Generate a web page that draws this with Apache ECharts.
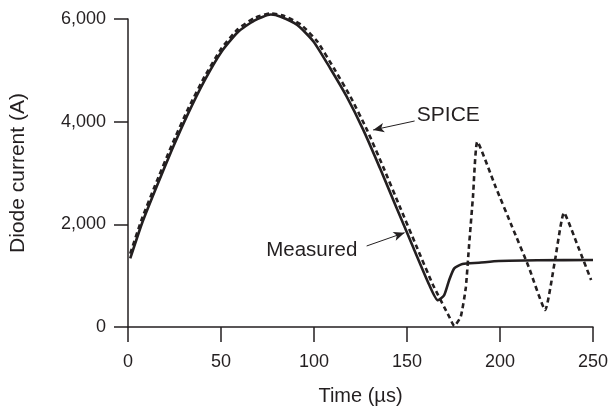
<!DOCTYPE html>
<html>
<head>
<meta charset="utf-8">
<script src="https://cdn.jsdelivr.net/npm/echarts@6/dist/echarts.min.js"></script>
<style>
  html, body { margin: 0; padding: 0; background: #fff; }
  #chart { width: 611px; height: 412px; }
</style>
</head>
<body>
<div id="chart"></div>
<script>
// values: time in µs, current in A
const measuredTime = [1.2, 7.5, 14.6, 23.5, 32.3, 41.2, 50.1, 59, 67.9, 76.8, 82.1, 91, 99.8, 108.7, 117.6, 126.5, 135.4, 144.3, 153.2, 162, 166.6, 170, 172.7, 175.4, 179.8, 188.7, 199.4, 220, 250]
const measuredCurrent = [1336, 2017, 2664, 3442, 4156, 4804, 5354, 5743, 5970, 6087, 6045, 5883, 5558, 5040, 4487, 3840, 3100, 2330, 1564, 818, 520, 623, 916, 1143, 1227, 1252, 1286, 1300, 1305]

const spiceTime = [1.2, 7.5, 14.6, 23.5, 32.3, 41.2, 50.1, 59, 67.9, 77, 84, 93, 101.8, 110.7, 119.6, 128.5, 137.4, 146.3, 155.2, 164, 172.7, 175.4, 178.9, 181.6, 183.4, 185.5, 187.8, 197.6, 206.5, 215.4, 224.3, 229.6, 234.4, 242, 249]
const spiceCurrent = [1430, 2110, 2760, 3540, 4250, 4880, 5420, 5800, 6020, 6110, 6060, 5890, 5560, 5040, 4487, 3840, 3100, 2330, 1564, 818, 200, 20, 200, 760, 1600, 2550, 3610, 2733, 1954, 1175, 331, 1305, 2227, 1564, 916]

const xTicks = [0, 250, 50]      // min, max, interval
const yTicks = [0, 6000, 2000]

// annotation anchors in data units
const spiceArrow = [[154.1, 4013], [131.8, 3838]]
const spiceLabelAt = [155.3, 4125]
const measuredArrow = [[128.3, 1578], [148.7, 1837]]
const measuredLabelAt = [123.3, 1500]

const ink = '#231f20'
const font = 'Liberation Sans, Arial, Helvetica, sans-serif'

const zip = (xs, ys) => xs.map((x, i) => [x, ys[i]])

const chart = echarts.init(document.getElementById('chart'))
chart.setOption({
  animation: false,
  textStyle: { fontFamily: font, color: ink },
  grid: { left: 126, right: 16, top: 19, bottom: 85 },
  xAxis: {
    type: 'value',
    min: xTicks[0],
    max: xTicks[1],
    interval: xTicks[2],
    name: 'Time (µs)',
    nameLocation: 'middle',
    nameGap: 59,
    nameTextStyle: { fontSize: 20, color: ink, fontFamily: font },
    axisLine: { lineStyle: { color: ink, width: 1.5 } },
    axisTick: { length: 15, lineStyle: { color: ink, width: 1.5 } },
    axisLabel: { fontSize: 18, color: ink, margin: 26, fontFamily: font },
    splitLine: { show: false }
  },
  yAxis: {
    type: 'value',
    min: yTicks[0],
    max: yTicks[1],
    interval: yTicks[2],
    name: 'Diode current (A)',
    nameLocation: 'middle',
    nameGap: 99,
    nameTextStyle: { fontSize: 21, color: ink, fontFamily: font },
    axisLine: { show: true, lineStyle: { color: ink, width: 1.5 } },
    axisTick: { show: true, length: 14, lineStyle: { color: ink, width: 1.5 } },
    axisLabel: {
      fontSize: 18, color: ink, margin: 22, fontFamily: font,
      formatter: v => v.toLocaleString('en-US')
    },
    splitLine: { show: false }
  },
  series: [
    {
      name: 'SPICE',
      type: 'line',
      data: zip(spiceTime, spiceCurrent),
      showSymbol: false,
      clip: false,
      smooth: 0.15,
      lineStyle: { color: ink, width: 2.6, type: [5, 3.5] },
      markLine: {
        silent: true,
        symbol: ['none', 'arrow'],
        symbolSize: [7, 11],
        lineStyle: { color: ink, width: 1, type: 'solid' },
        label: { show: false },
        data: [[{ coord: spiceArrow[0] }, { coord: spiceArrow[1] }]]
      },
      markPoint: {
        silent: true,
        symbol: 'circle',
        symbolSize: 0,
        label: {
          show: true, position: 'right', distance: 0, formatter: 'SPICE',
          fontSize: 21, color: ink, fontFamily: font
        },
        data: [{ coord: spiceLabelAt }]
      }
    },
    {
      name: 'Measured',
      type: 'line',
      data: zip(measuredTime, measuredCurrent),
      showSymbol: false,
      clip: false,
      smooth: 0.2,
      lineStyle: { color: ink, width: 2.6 },
      markLine: {
        silent: true,
        symbol: ['none', 'arrow'],
        symbolSize: [7, 11],
        lineStyle: { color: ink, width: 1, type: 'solid' },
        label: { show: false },
        data: [[{ coord: measuredArrow[0] }, { coord: measuredArrow[1] }]]
      },
      markPoint: {
        silent: true,
        symbol: 'circle',
        symbolSize: 0,
        label: {
          show: true, position: 'left', distance: 0, formatter: 'Measured',
          fontSize: 20.5, color: ink, fontFamily: font
        },
        data: [{ coord: measuredLabelAt }]
      }
    }
  ]
})
</script>
</body>
</html>
